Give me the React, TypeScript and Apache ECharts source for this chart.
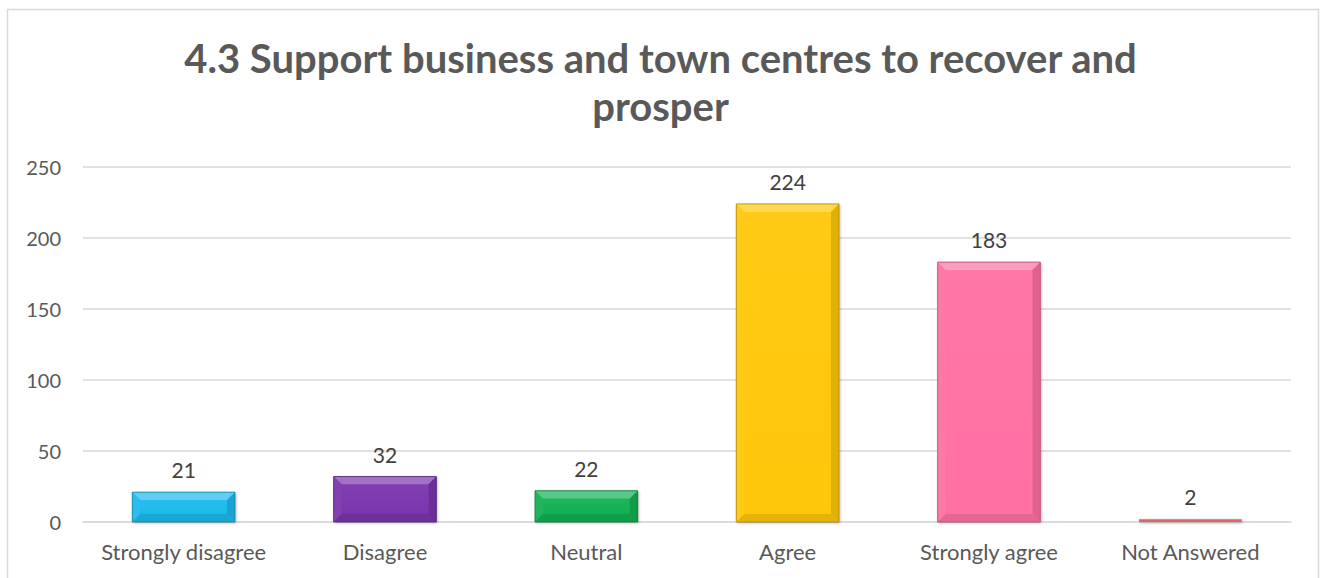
import React, { useEffect, useRef } from "react";
import * as echarts from "echarts";

const categories = ["Strongly disagree", "Disagree", "Neutral", "Agree", "Strongly agree", "Not Answered"];
const values = [21, 32, 22, 224, 183, 2];
const barColors = ["#1CB9EC", "#7A35AC", "#12B052", "#FFC709", "#FF70A2", "#E06666"];
const yTicks = [0, 50, 100, 150, 200, 250];
const titleText = "4.3 Support business and town centres to recover and\nprosper";

function shade(hex: string, amt: number): string {
  const n = parseInt(hex.slice(1), 16);
  let r = (n >> 16) & 255, g = (n >> 8) & 255, b = n & 255;
  const f = (c: number) => {
    const v = amt >= 0 ? c + (255 - c) * amt : c * (1 + amt);
    return Math.max(0, Math.min(255, Math.round(v)));
  };
  r = f(r); g = f(g); b = f(b);
  return "rgb(" + r + "," + g + "," + b + ")";
}

export default function App() {
  const ref = useRef<HTMLDivElement>(null);
  useEffect(() => {
    document.body.style.margin = "0";
    const chart = echarts.init(ref.current!, null, { renderer: "svg" });
    const font = "Lato";
    chart.setOption({
      animation: false,
      backgroundColor: "#ffffff",
      textStyle: { fontFamily: font },
      title: {
        text: titleText,
        left: "center",
        top: 29,
        textStyle: { fontFamily: font, fontWeight: "bold", fontSize: 40, color: "#595959", lineHeight: 48 },
      },
      graphic: [
        {
          type: "rect",
          shape: { x: 7.5, y: 9.5, width: 1311, height: 620 },
          style: { fill: "none", stroke: "#d9d9d9", lineWidth: 1.5 },
          silent: true,
        },
      ],
      grid: { left: 83, right: 30, top: 167, bottom: 56, containLabel: false },
      xAxis: {
        type: "category",
        data: categories,
        axisLine: { show: true, lineStyle: { color: "#d9d9d9", width: 1.5 } },
        axisTick: { show: false },
        axisLabel: { color: "#595959", fontSize: 22, fontFamily: font, margin: 18, interval: 0 },
      },
      yAxis: {
        type: "value",
        min: 0,
        max: 250,
        interval: 50,
        axisLine: { show: false },
        axisTick: { show: false },
        splitLine: { lineStyle: { color: "#d9d9d9", width: 1.5 } },
        axisLabel: {
          color: "#595959",
          fontSize: 20,
          fontFamily: font,
          margin: 22,
          formatter: (v: number) => (yTicks.includes(v) ? String(v) : ""),
        },
      },
      series: [
        {
          type: "custom",
          data: values.map((v, i) => [i, v]),
          renderItem: (params: any, api: any) => {
            const idx = api.value(0);
            const val = api.value(1);
            const top = api.coord([idx, val]);
            const base = api.coord([idx, 0]);
            const bw = api.size([1, 0])[0] * 0.51;
            const x0 = top[0] - bw / 2;
            const x1 = top[0] + bw / 2;
            const y0 = top[1];
            const y1 = base[1];
            const h = y1 - y0;
            const c = barColors[idx];
            const b = Math.min(8, h / 2);
            const children: any[] = [];
            children.push({
              type: "rect",
              shape: { x: x0, y: y0, width: bw, height: h },
              style: { fill: c, shadowBlur: 3, shadowColor: "rgba(0,0,0,0.3)", shadowOffsetX: 1, shadowOffsetY: 1 },
            });
            if (h > 6) {
              children.push({
                type: "polygon",
                shape: { points: [[x0, y0], [x1, y0], [x1 - b, y0 + b], [x0 + b, y0 + b]] },
                style: { fill: shade(c, 0.3) },
              });
              children.push({
                type: "polygon",
                shape: { points: [[x0, y0], [x0 + b, y0 + b], [x0 + b, y1 - b], [x0, y1]] },
                style: { fill: shade(c, 0.06) },
              });
              children.push({
                type: "polygon",
                shape: { points: [[x1, y0], [x1, y1], [x1 - b, y1 - b], [x1 - b, y0 + b]] },
                style: { fill: shade(c, -0.12) },
              });
              children.push({
                type: "polygon",
                shape: { points: [[x0, y1], [x0 + b, y1 - b], [x1 - b, y1 - b], [x1, y1]] },
                style: { fill: shade(c, -0.1) },
              });
              children.push({
                type: "rect",
                shape: { x: x0 + b, y: y0 + b, width: bw - 2 * b, height: h - 2 * b },
                style: {
                  fill: new echarts.graphic.LinearGradient(0, 0, 0, 1, [
                    { offset: 0, color: shade(c, 0.05) },
                    { offset: 1, color: c },
                  ]),
                },
              });
              children.push({
                type: "rect",
                shape: { x: x0, y: y0, width: bw, height: h },
                style: { fill: "none", stroke: shade(c, -0.3), lineWidth: 0.8 },
              });
            }
            children.push({
              type: "text",
              style: {
                text: String(val),
                x: top[0],
                y: y0 - 12,
                textAlign: "center",
                textVerticalAlign: "bottom",
                fill: "#404040",
                font: "21px " + font,
              },
            });
            return { type: "group", children };
          },
        },
      ],
    });
    return () => chart.dispose();
  }, []);
  return <div ref={ref} style={{ width: 1321, height: 578 }} />;
}
